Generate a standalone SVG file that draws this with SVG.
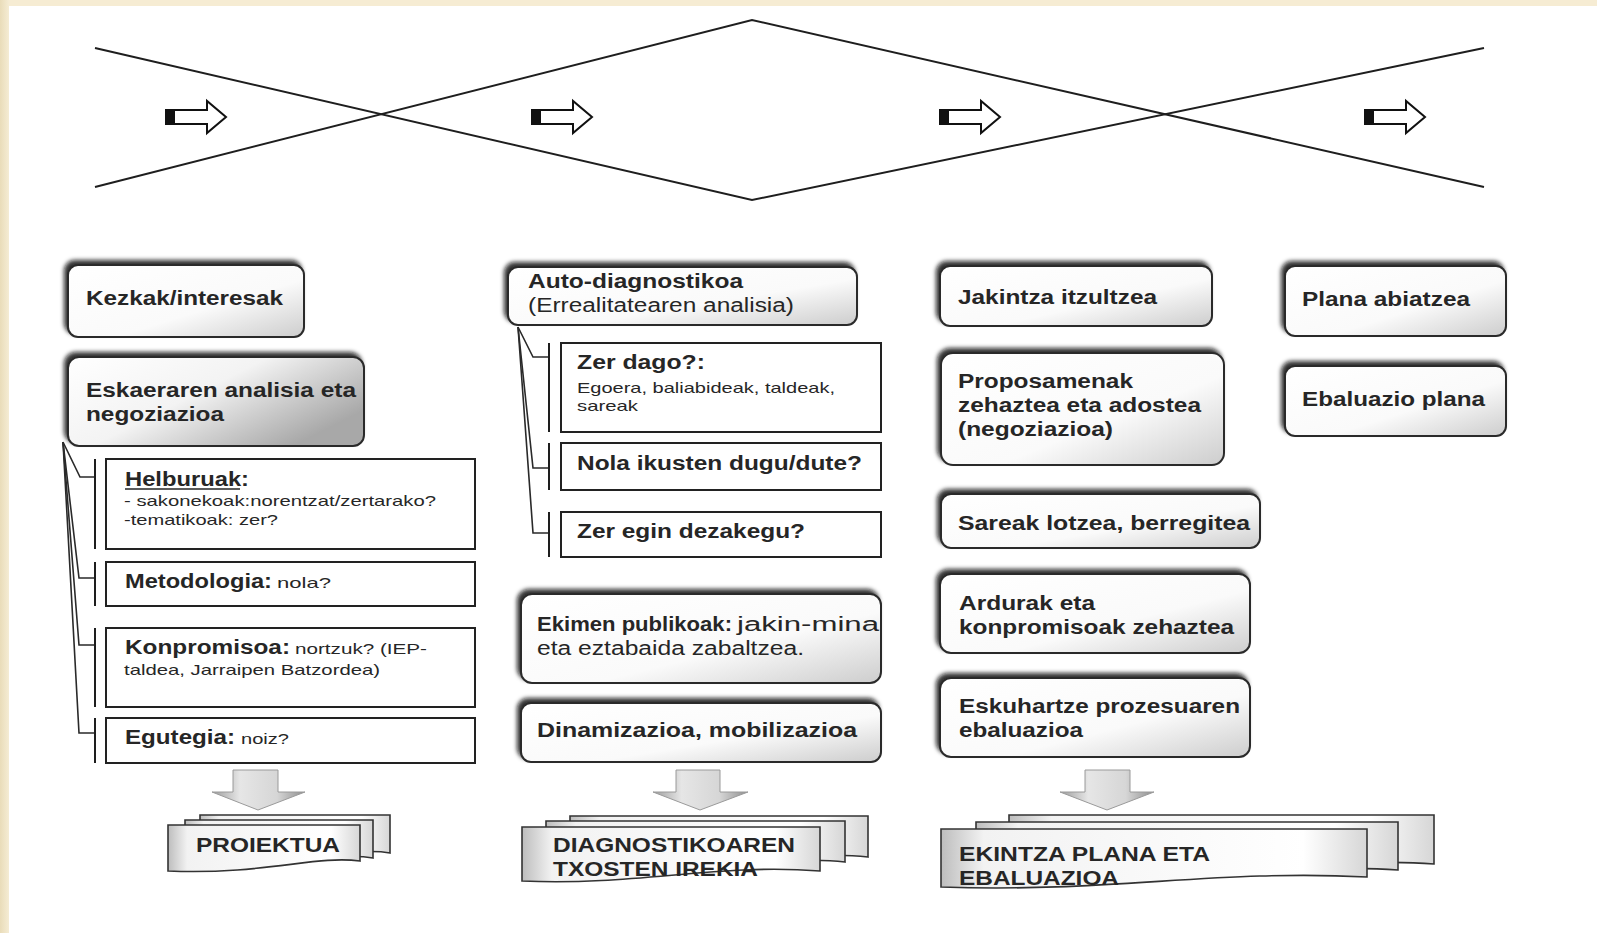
<svg xmlns="http://www.w3.org/2000/svg" width="1597" height="933" viewBox="0 0 1597 933">
<defs>
<style>
.t{font-family:"Liberation Sans",Arial,sans-serif;fill:#262626}
.b{font-weight:bold;font-size:20px}
.r{font-weight:normal;font-size:20px}
.s{font-weight:normal;font-size:15px}
.ln{fill:none;stroke:#1e1e1e;stroke-width:2}
.con{fill:none;stroke:#2a2a2a;stroke-width:1.6}
.bar{stroke:#1e1e1e;stroke-width:2}
.sub{fill:#fff;stroke:#222;stroke-width:2}
.box{fill:url(#gb);stroke:#2b2b2b;stroke-width:2;filter:url(#sh)}
.boxd{fill:url(#gbd);stroke:#2b2b2b;stroke-width:2;filter:url(#sh)}
.rar{fill:#fff;stroke:#111;stroke-width:2;stroke-linejoin:miter}
.dar{fill:url(#ga);stroke:#9a9a9a;stroke-width:1}
.doc{fill:url(#gd);stroke:#333;stroke-width:1.6}
</style>
<linearGradient id="gb" x1="0" y1="0" x2="1" y2="1">
<stop offset="0" stop-color="#ffffff"/><stop offset="0.6" stop-color="#fafafa"/><stop offset="1" stop-color="#cdcdcd"/>
</linearGradient>
<linearGradient id="gbd" x1="0" y1="0" x2="1" y2="0.6">
<stop offset="0" stop-color="#ffffff"/><stop offset="0.5" stop-color="#f3f3f3"/><stop offset="1" stop-color="#a8a8a8"/>
</linearGradient>
<linearGradient id="ga" x1="0" y1="0" x2="1" y2="0">
<stop offset="0" stop-color="#9c9c9c"/><stop offset="0.3" stop-color="#e6e6e6"/><stop offset="0.7" stop-color="#d6d6d6"/><stop offset="1" stop-color="#8e8e8e"/>
</linearGradient>
<linearGradient id="gd" x1="0" y1="0" x2="1" y2="0">
<stop offset="0" stop-color="#bdbdbd"/><stop offset="0.1" stop-color="#f2f2f2"/><stop offset="0.85" stop-color="#ffffff"/><stop offset="1" stop-color="#d6d6d6"/>
</linearGradient>
<linearGradient id="gl" x1="0" y1="0" x2="1" y2="0">
<stop offset="0" stop-color="#e9dcb9"/><stop offset="1" stop-color="#f5ecd4"/>
</linearGradient>
<filter id="sh" x="-10%" y="-20%" width="125%" height="145%">
<feDropShadow dx="-3" dy="-4" stdDeviation="2" flood-color="#111" flood-opacity="0.85"/>
</filter>
</defs>

<rect x="0" y="0" width="1597" height="933" fill="#ffffff"/>
<rect x="0" y="0" width="1597" height="6" fill="#f6ecd3"/>
<rect x="0" y="0" width="9" height="933" fill="url(#gl)"/>

<g id="phases">
<path class="ln" d="M95 48 L752 200 L1484 48"/>
<path class="ln" d="M95 187 L752 20 L1484 187"/>
</g>

<g id="phase-arrows">
<g id="ra1"><path class="rar" d="M166 110 H207 V101 L226 117 L207 133 V124 H166 Z"/><rect x="166" y="110" width="9" height="14" fill="#111"/></g>
<g id="ra2"><path class="rar" d="M532 110 H573 V101 L592 117 L573 133 V124 H532 Z"/><rect x="532" y="110" width="9" height="14" fill="#111"/></g>
<g id="ra3"><path class="rar" d="M940 110 H981 V101 L1000 117 L981 133 V124 H940 Z"/><rect x="940" y="110" width="9" height="14" fill="#111"/></g>
<g id="ra4"><path class="rar" d="M1365 110 H1406 V101 L1425 117 L1406 133 V124 H1365 Z"/><rect x="1365" y="110" width="9" height="14" fill="#111"/></g>
</g>

<g id="connectors">
<path class="con" d="M63 442 L80 477 H95"/>
<path class="con" d="M63 442 L79 578 H95"/>
<path class="con" d="M63 442 L79 645 H95"/>
<path class="con" d="M63 442 L79 733 H95"/>
<line class="bar" x1="95" y1="459" x2="95" y2="549"/>
<line class="bar" x1="95" y1="562" x2="95" y2="606"/>
<line class="bar" x1="95" y1="628" x2="95" y2="707"/>
<line class="bar" x1="95" y1="718" x2="95" y2="763"/>
<path class="con" d="M518 327 L533 357 H549"/>
<path class="con" d="M518 327 L533 468 H549"/>
<path class="con" d="M518 327 L533 533 H549"/>
<line class="bar" x1="549" y1="343" x2="549" y2="432"/>
<line class="bar" x1="549" y1="443" x2="549" y2="490"/>
<line class="bar" x1="549" y1="512" x2="549" y2="557"/>
</g>

<g id="kezkak"><rect class="box" x="68" y="265" width="236" height="72" rx="10"/>
<text class="t b" x="86" y="305" textLength="197" lengthAdjust="spacingAndGlyphs">Kezkak/interesak</text></g>

<g id="eskaeraren"><rect class="boxd" x="68" y="357" width="296" height="89" rx="11"/>
<text class="t b" x="86" y="397" textLength="270" lengthAdjust="spacingAndGlyphs">Eskaeraren analisia eta</text>
<text class="t b" x="86" y="421" textLength="138" lengthAdjust="spacingAndGlyphs">negoziazioa</text></g>

<g id="helburuak"><rect class="sub" x="106" y="459" width="369" height="90"/>
<text class="t b" x="125" y="486" textLength="124" lengthAdjust="spacingAndGlyphs">Helburuak:</text>
<line x1="125" y1="489" x2="240" y2="489" stroke="#262626" stroke-width="1.6"/>
<text class="t s" x="124" y="506" textLength="312" lengthAdjust="spacingAndGlyphs">- sakonekoak:norentzat/zertarako?</text>
<text class="t s" x="124" y="525" textLength="154" lengthAdjust="spacingAndGlyphs">-tematikoak: zer?</text></g>

<g id="metodologia"><rect class="sub" x="106" y="562" width="369" height="44"/>
<text class="t b" x="125" y="588" textLength="147" lengthAdjust="spacingAndGlyphs">Metodologia:</text>
<text class="t s" x="277" y="588" textLength="54" lengthAdjust="spacingAndGlyphs">nola?</text></g>

<g id="konpromisoa"><rect class="sub" x="106" y="628" width="369" height="79"/>
<text class="t b" x="125" y="654" textLength="165" lengthAdjust="spacingAndGlyphs">Konpromisoa:</text>
<text class="t s" x="295" y="654" textLength="132" lengthAdjust="spacingAndGlyphs">nortzuk? (IEP-</text>
<text class="t s" x="124" y="675" textLength="256" lengthAdjust="spacingAndGlyphs">taldea, Jarraipen Batzordea)</text></g>

<g id="egutegia"><rect class="sub" x="106" y="718" width="369" height="45"/>
<text class="t b" x="125" y="744" textLength="110" lengthAdjust="spacingAndGlyphs">Egutegia:</text>
<text class="t s" x="241" y="744" textLength="48" lengthAdjust="spacingAndGlyphs">noiz?</text></g>

<g id="arrow1"><path class="dar" d="M233 770 H278 V792 H305 L258 810 L212 792 H233 Z"/></g>
<g id="proiektua">
<path class="doc" d="M200 815 H390 V853 C350 846 300 866 200 863 Z"/>
<path class="doc" d="M185 820 H373 V858 C330 851 280 871 185 868 Z"/>
<path class="doc" d="M168 825 H360 V861 C315 855 265 875 168 871 Z"/>
<text class="t b" x="196" y="852" textLength="144" lengthAdjust="spacingAndGlyphs">PROIEKTUA</text></g>

<g id="autodiagnostikoa"><rect class="box" x="508" y="267" width="349" height="58" rx="10"/>
<text class="t b" x="528" y="288" textLength="215" lengthAdjust="spacingAndGlyphs">Auto-diagnostikoa</text>
<text class="t r" x="528" y="312" textLength="266" lengthAdjust="spacingAndGlyphs">(Errealitatearen analisia)</text></g>

<g id="zerdago"><rect class="sub" x="561" y="343" width="320" height="89"/>
<text class="t b" x="577" y="369" textLength="128" lengthAdjust="spacingAndGlyphs">Zer dago?:</text>
<text class="t s" x="577" y="393" textLength="258" lengthAdjust="spacingAndGlyphs">Egoera, baliabideak, taldeak,</text>
<text class="t s" x="577" y="411" textLength="61" lengthAdjust="spacingAndGlyphs">sareak</text></g>

<g id="nola"><rect class="sub" x="561" y="443" width="320" height="47"/>
<text class="t b" x="577" y="470" textLength="285" lengthAdjust="spacingAndGlyphs">Nola ikusten dugu/dute?</text></g>

<g id="zeregin"><rect class="sub" x="561" y="512" width="320" height="45"/>
<text class="t b" x="577" y="538" textLength="228" lengthAdjust="spacingAndGlyphs">Zer egin dezakegu?</text></g>

<g id="ekimen"><rect class="box" x="521" y="594" width="360" height="89" rx="11"/>
<text class="t b" x="537" y="631" textLength="195" lengthAdjust="spacingAndGlyphs">Ekimen publikoak:</text>
<text class="t r" x="737" y="631" textLength="142" lengthAdjust="spacingAndGlyphs">jakin-mina</text>
<text class="t r" x="537" y="655" textLength="267" lengthAdjust="spacingAndGlyphs">eta eztabaida zabaltzea.</text></g>

<g id="dinamizazioa"><rect class="box" x="521" y="703" width="360" height="59" rx="10"/>
<text class="t b" x="537" y="737" textLength="320" lengthAdjust="spacingAndGlyphs">Dinamizazioa, mobilizazioa</text></g>

<g id="arrow2"><path class="dar" d="M676 770 H720 V792 H748 L700 810 L653 792 H676 Z"/></g>
<g id="diagnostikoaren">
<path class="doc" d="M570 816 H868 V857 C800 849 730 871 570 867 Z"/>
<path class="doc" d="M546 821 H845 V862 C780 854 705 876 546 872 Z"/>
<path class="doc" d="M522 827 H820 V871 C715 863 640 886 522 881 Z"/>
<text class="t b" x="553" y="852" textLength="242" lengthAdjust="spacingAndGlyphs">DIAGNOSTIKOAREN</text>
<text class="t b" x="553" y="876" textLength="205" lengthAdjust="spacingAndGlyphs">TXOSTEN IREKIA</text></g>

<g id="jakintza"><rect class="box" x="940" y="266" width="272" height="60" rx="10"/>
<text class="t b" x="958" y="304" textLength="199" lengthAdjust="spacingAndGlyphs">Jakintza itzultzea</text></g>

<g id="proposamenak"><rect class="box" x="941" y="353" width="283" height="112" rx="12"/>
<text class="t b" x="958" y="388" textLength="175" lengthAdjust="spacingAndGlyphs">Proposamenak</text>
<text class="t b" x="958" y="412" textLength="243" lengthAdjust="spacingAndGlyphs">zehaztea eta adostea</text>
<text class="t b" x="958" y="436" textLength="155" lengthAdjust="spacingAndGlyphs">(negoziazioa)</text></g>

<g id="sareak"><rect class="box" x="941" y="494" width="319" height="54" rx="10"/>
<text class="t b" x="958" y="530" textLength="292" lengthAdjust="spacingAndGlyphs">Sareak lotzea, berregitea</text></g>

<g id="ardurak"><rect class="box" x="940" y="574" width="310" height="79" rx="11"/>
<text class="t b" x="959" y="610" textLength="136" lengthAdjust="spacingAndGlyphs">Ardurak eta</text>
<text class="t b" x="959" y="634" textLength="275" lengthAdjust="spacingAndGlyphs">konpromisoak zehaztea</text></g>

<g id="eskuhartze"><rect class="box" x="940" y="678" width="310" height="79" rx="11"/>
<text class="t b" x="959" y="713" textLength="281" lengthAdjust="spacingAndGlyphs">Eskuhartze prozesuaren</text>
<text class="t b" x="959" y="737" textLength="124" lengthAdjust="spacingAndGlyphs">ebaluazioa</text></g>

<g id="arrow3"><path class="dar" d="M1085 770 H1130 V792 H1154 L1107 810 L1060 792 H1085 Z"/></g>
<g id="ekintza">
<path class="doc" d="M1009 815 H1434 V864 C1340 856 1230 880 1009 874 Z"/>
<path class="doc" d="M976 822 H1398 V870 C1300 862 1195 886 976 880 Z"/>
<path class="doc" d="M941 829 H1367 V877 C1217 869 1110 893 941 887 Z"/>
<text class="t b" x="959" y="861" textLength="251" lengthAdjust="spacingAndGlyphs">EKINTZA PLANA ETA</text>
<text class="t b" x="959" y="885" textLength="160" lengthAdjust="spacingAndGlyphs">EBALUAZIOA</text></g>

<g id="plana"><rect class="box" x="1285" y="266" width="221" height="70" rx="10"/>
<text class="t b" x="1302" y="306" textLength="168" lengthAdjust="spacingAndGlyphs">Plana abiatzea</text></g>

<g id="ebaluazioplana"><rect class="box" x="1285" y="366" width="221" height="70" rx="10"/>
<text class="t b" x="1302" y="406" textLength="183" lengthAdjust="spacingAndGlyphs">Ebaluazio plana</text></g>
</svg>
